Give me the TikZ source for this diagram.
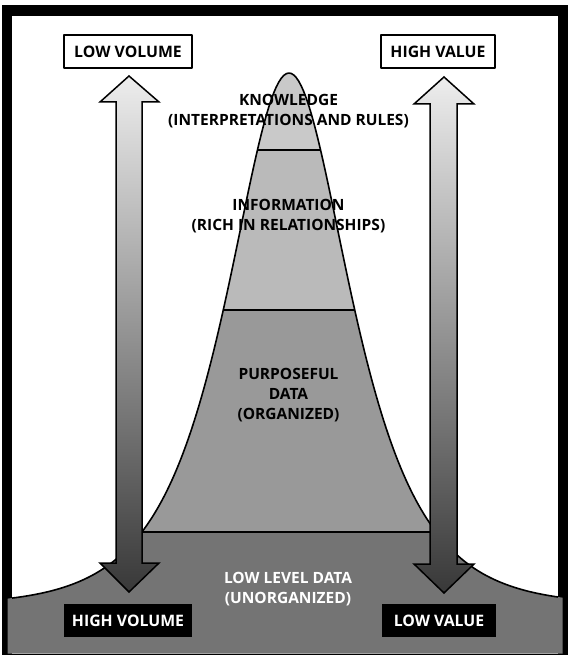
\documentclass[tikz,border=0pt]{standalone}
\usepackage{fontspec}
\setmainfont{Open Sans}
\definecolor{knc}{gray}{0.79}
\definecolor{infc}{gray}{0.73}
\definecolor{purc}{gray}{0.60}
\definecolor{basec}{gray}{0.455}
\definecolor{atop}{gray}{0.93}
\definecolor{abot}{gray}{0.22}
\newcommand{\bellplot}[2]{plot[domain=#1:#2,samples=220] (\x,{605-532/cosh((\x-289)/55)})}
\tikzset{
  outline/.style={draw=black,line width=1.6pt},
  blockarrow/.style={top color=atop,bottom color=abot,draw=black,line width=1.5pt,line join=miter},
  lbl/.style={font=\bfseries\fontsize{15.5}{20}\selectfont,align=center,inner sep=0pt},
  whitebox/.style={draw=black,line width=1.3pt,fill=white,minimum height=33pt,font=\bfseries\fontsize{15.8}{17}\selectfont,inner sep=0pt},
  blackbox/.style={fill=black,text=white,minimum height=33pt,font=\bfseries\fontsize{15.8}{17}\selectfont,inner sep=0pt}
}
\begin{document}
\begin{tikzpicture}[x=1pt,y=-1pt,line join=round]
\useasboundingbox (0,0) rectangle (571,655);
% frame
\fill[black] (2,5) rectangle (568,655);
\fill[white] (12,16) rectangle (558,653.5);
% base layer
\fill[basec] \bellplot{7.5}{562.5} -- (562.5,653.5) -- (7.5,653.5) -- cycle;
\begin{scope}
  \clip (0,0) rectangle (571,532);
  \fill[purc] \bellplot{8}{562} -- cycle;
\end{scope}
\begin{scope}
  \clip (0,0) rectangle (571,310);
  \fill[infc] \bellplot{8}{562} -- cycle;
\end{scope}
\begin{scope}
  \clip (0,0) rectangle (571,150);
  \fill[knc] \bellplot{8}{562} -- cycle;
\end{scope}
% separators
\begin{scope}
  \clip \bellplot{8}{562} -- cycle;
  \draw[line width=1.5pt] (0,150) -- (571,150);
  \draw[line width=1.5pt] (0,310) -- (571,310);
  \draw[line width=1.5pt] (0,532) -- (571,532);
\end{scope}
\draw[outline] \bellplot{12}{558};
% arrows
\shadedraw[blockarrow] (129,76) -- (159,102) -- (142,102) -- (142,563) -- (159,563) -- (129,592)
  -- (100,563) -- (116,563) -- (116,102) -- (100,102) -- cycle;
\shadedraw[blockarrow] (444,77) -- (474,104) -- (457,104) -- (457,564) -- (474,564) -- (444,593)
  -- (414,564) -- (430,564) -- (430,104) -- (414,104) -- cycle;
% labels
\node[whitebox,minimum width=128pt] (lowvol) at (128,51.5) {LOW VOLUME};
\node[whitebox,minimum width=114pt] (highval) at (438,51.5) {HIGH VALUE};
\node[blackbox,minimum width=128pt] (highvol) at (128,620.5) {HIGH VOLUME};
\node[blackbox,minimum width=114pt] (lowval) at (439,620.5) {LOW VALUE};
\node[lbl] (know) at (288.5,111) {KNOWLEDGE\\(INTERPRETATIONS AND RULES)};
\node[lbl] (info) at (288.5,216) {INFORMATION\\(RICH IN RELATIONSHIPS)};
\node[lbl] (purp) at (288.5,395) {PURPOSEFUL\\DATA\\(ORGANIZED)};
\node[lbl,text=white] (lowlev) at (288,589.5) {LOW LEVEL DATA\\(UNORGANIZED)};
\end{tikzpicture}
\end{document}
